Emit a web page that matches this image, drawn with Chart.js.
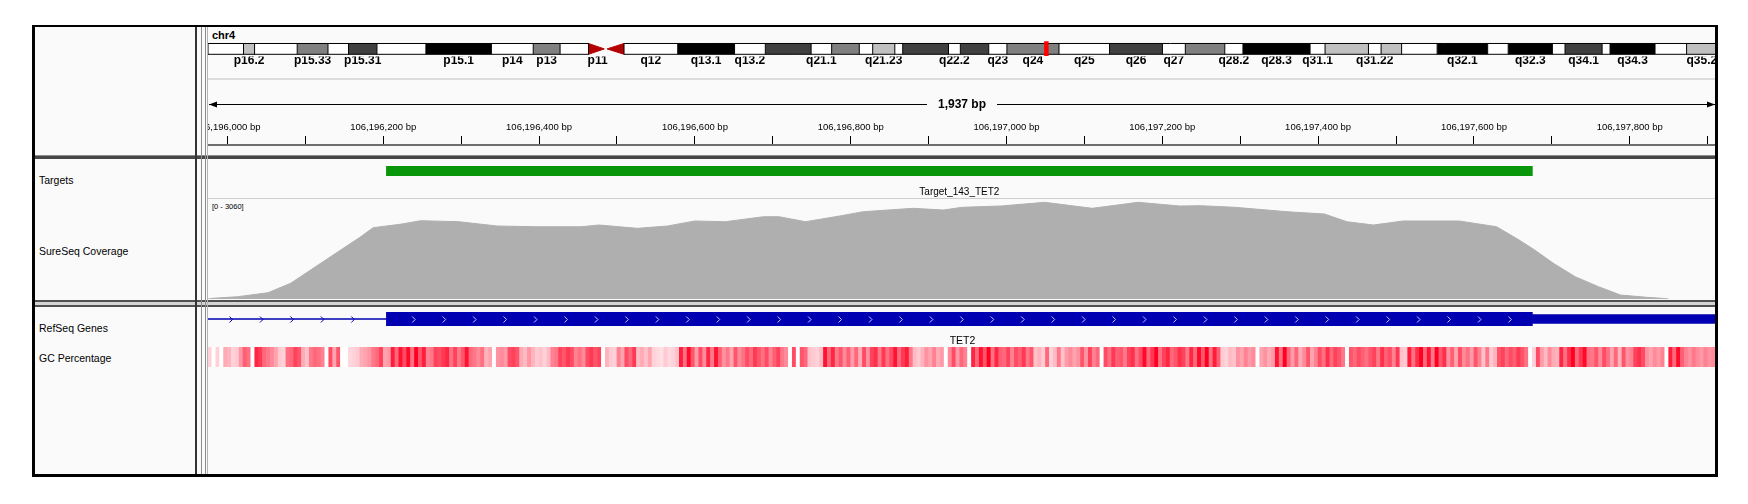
<!DOCTYPE html>
<html>
<head>
<meta charset="utf-8">
<title>chr4 TET2 - Target_143</title>
<script src="https://cdn.jsdelivr.net/npm/chart.js@4.4.1/dist/chart.umd.min.js"></script>
<style>
  html, body { margin: 0; padding: 0; background: #fff; }
  body { position: relative; width: 1748px; height: 504px; overflow: hidden;
         font-family: "Liberation Sans", Arial, Helvetica, sans-serif; }
  .abs { position: absolute; }
  canvas { position: absolute; }
  .name { position: absolute; left: 39px; font-size: 10.5px; line-height: 12px; color: #000; white-space: nowrap; }
</style>
</head>
<body>
  <div class="abs" style="left:32px;top:25px;width:1686px;height:452px;background:#fafafa"></div>
  <div class="abs" style="left:208px;top:78px;width:1509px;height:2px;background:#dcdcdc"></div>
  <div class="abs" style="left:208px;top:198px;width:1509px;height:1px;background:#cfcfcf"></div>

  <div class="abs" style="left:212px;top:29px;font-weight:bold;font-size:11px;line-height:12px">chr4</div>
  <div class="abs" style="left:212px;top:203px;font-size:7.5px;line-height:8px">[0 - 3060]</div>

  <div class="name" style="top:174px">Targets</div>
  <div class="name" style="top:245px">SureSeq Coverage</div>
  <div class="name" style="top:322px">RefSeq Genes</div>
  <div class="name" style="top:352px">GC Percentage</div>

  <canvas id="ideogram" width="1509" height="30" style="left:208px;top:40px"></canvas>
  <canvas id="ruler" width="1509" height="61" style="left:208px;top:94px"></canvas>
  <canvas id="targets" width="1509" height="40" style="left:208px;top:159px"></canvas>
  <canvas id="coverage" width="1509" height="100" style="left:208px;top:199px"></canvas>
  <canvas id="genes" width="1509" height="40" style="left:208px;top:307px"></canvas>
  <canvas id="gc" width="1509" height="20" style="left:208px;top:347px"></canvas>

  <div class="abs" style="left:35px;top:155px;width:1680px;height:1px;background:#8c8c8c"></div>
  <div class="abs" style="left:35px;top:156px;width:1680px;height:3px;background:#474747"></div>
  <div class="abs" style="left:35px;top:300px;width:1680px;height:2px;background:#505050"></div>
  <div class="abs" style="left:35px;top:302px;width:1680px;height:3px;background:#d4d4d4"></div>
  <div class="abs" style="left:35px;top:305px;width:1680px;height:2px;background:#505050"></div>
  <div class="abs" style="left:195px;top:25px;width:2px;height:452px;background:#333"></div>
  <div class="abs" style="left:201px;top:25px;width:1px;height:452px;background:#8c8c8c"></div>
  <div class="abs" style="left:205px;top:25px;width:1px;height:452px;background:#8c8c8c"></div>
  <div class="abs" style="left:207px;top:25px;width:1px;height:452px;background:#b4b4b4"></div>
  <div class="abs" style="left:32px;top:25px;width:1686px;height:452px;box-sizing:border-box;border:solid #000;border-width:2px 3px 3px 3px"></div>

<script>
// visible locus, chr4
const viewStart = 106195975;
const viewEnd = 106197912;

// chr4 cytobands, Mb
const chrLength = 191.15;
const bandStarts = [0, 4.5, 5.9, 11.3, 15.2, 17.8, 21.4, 27.6, 35.9, 41.2,
  44.6, 48.2, 50.5, 52.7, 59.5, 66.7, 70.6, 76.4, 79.0, 82.5,
  84.2, 87.0, 88.0, 93.8, 95.3, 98.9, 101.2, 107.8, 114.2, 120.9,
  123.8, 128.8, 131.1, 139.6, 141.5, 147.0, 148.6, 151.2, 155.7, 162.1,
  164.7, 170.3, 171.9, 176.6, 177.6, 183.3, 187.3];
const bandStains = ['gneg', 'gpos25', 'gneg', 'gpos50', 'gneg', 'gpos75', 'gneg', 'gpos100', 'gneg', 'gpos50',
  'gneg', 'acen', 'acen', 'gneg', 'gpos100', 'gneg', 'gpos75', 'gneg', 'gpos50', 'gneg',
  'gpos25', 'gneg', 'gpos75', 'gneg', 'gpos75', 'gneg', 'gpos50', 'gneg', 'gpos75', 'gneg',
  'gpos50', 'gneg', 'gpos100', 'gneg', 'gpos25', 'gneg', 'gpos25', 'gneg', 'gpos100', 'gneg',
  'gpos100', 'gneg', 'gpos75', 'gneg', 'gpos100', 'gneg', 'gpos25'];
const bandNames = ['p16.3', 'p16.2', 'p16.1', 'p15.33', 'p15.32', 'p15.31', 'p15.2', 'p15.1', 'p14', 'p13',
  'p12', 'p11', 'q11', 'q12', 'q13.1', 'q13.2', 'q13.3', 'q21.1', 'q21.21', 'q21.22',
  'q21.23', 'q21.3', 'q22.1', 'q22.2', 'q22.3', 'q23', 'q24', 'q25', 'q26', 'q27',
  'q28.1', 'q28.2', 'q28.3', 'q31.1', 'q31.21', 'q31.22', 'q31.23', 'q31.3', 'q32.1', 'q32.2',
  'q32.3', 'q33', 'q34.1', 'q34.2', 'q34.3', 'q35.1', 'q35.2'];
const shownBands = ['p16.2', 'p15.33', 'p15.31', 'p15.1', 'p14', 'p13', 'p11', 'q12', 'q13.1', 'q13.2',
  'q21.1', 'q21.23', 'q22.2', 'q23', 'q24', 'q25', 'q26', 'q27', 'q28.2', 'q28.3',
  'q31.1', 'q31.22', 'q32.1', 'q32.3', 'q34.1', 'q34.3', 'q35.2'];
const locusMb = 106.2;

// capture targets
const targetStarts = [106196204];
const targetEnds = [106197675];
const targetNames = ['Target_143_TET2'];

// read depth
const covMax = 3060;
const covPos = [106195975, 106195981, 106196013, 106196052, 106196081, 106196126, 106196170, 106196187, 106196224, 106196248,
  106196297, 106196346, 106196396, 106196454, 106196477, 106196526, 106196565, 106196600, 106196639, 106196688,
  106196708, 106196742, 106196786, 106196816, 106196880, 106196919, 106196943, 106196993, 106197049, 106197110,
  106197169, 106197222, 106197249, 106197293, 106197360, 106197408, 106197437, 106197471, 106197509, 106197581,
  106197629, 106197658, 106197678, 106197702, 106197730, 106197760, 106197788, 106197822, 106197841, 106197850];
const covDepth = [0, 21, 70, 193, 480, 1193, 1888, 2182, 2295, 2396,
  2365, 2234, 2212, 2212, 2264, 2163, 2234, 2387, 2365, 2518,
  2518, 2365, 2540, 2671, 2775, 2723, 2806, 2846, 2959, 2775,
  2959, 2846, 2855, 2806, 2671, 2601, 2365, 2264, 2387, 2387,
  2212, 1805, 1499, 1092, 682, 376, 122, 52, 21, 0];

// RefSeq TET2 (+ strand)
const geneName = 'TET2';
const geneStart = 106067032;
const geneEnd = 106200973;
const exonStart = 106196204;
const cdsEnd = 106197675;

// GC percentage, 5 bp windows
const gcStart = 106195975;
const gcWindow = 5;
const gcPercent = [40, 10, 40, 10, 50, 48, 40, 42, 55, 68, 64,
  12, 80, 76, 66, 62, 58, 52, 42, 40, 64,
  66, 74, 70, 50, 44, 62, 66, 64, 60, 10,
  72, 52, 70, 10, 10, 38, 40, 42, 50, 52,
  55, 62, 66, 74, 52, 54, 82, 66, 84, 72,
  86, 64, 88, 70, 82, 60, 62, 74, 72, 76,
  80, 64, 74, 62, 70, 84, 66, 62, 58, 64,
  48, 52, 10, 56, 58, 54, 72, 74, 70, 50,
  46, 55, 48, 42, 44, 40, 46, 60, 62, 74,
  70, 76, 72, 60, 64, 58, 72, 76, 70, 74,
  10, 48, 42, 40, 60, 52, 72, 66, 76, 46,
  50, 44, 52, 40, 38, 36, 42, 38, 40, 44,
  82, 64, 86, 70, 54, 72, 58, 80, 62, 84,
  68, 56, 62, 52, 70, 58, 64, 72, 66, 76,
  70, 64, 72, 60, 68, 74, 62, 58, 10, 72,
  12, 70, 66, 44, 42, 40, 46, 84, 66, 80,
  62, 70, 58, 68, 54, 66, 50, 72, 56, 74,
  78, 62, 76, 64, 72, 84, 66, 76, 82, 62,
  46, 42, 48, 56, 52, 60, 50, 54, 10, 58,
  72, 54, 66, 60, 12, 80, 66, 84, 70, 90,
  64, 80, 68, 66, 74, 60, 72, 68, 76, 62,
  70, 44, 48, 42, 66, 40, 46, 62, 44, 54,
  58, 52, 56, 70, 56, 74, 60, 66, 10, 72,
  64, 76, 68, 70, 62, 74, 78, 64, 72, 86,
  66, 76, 88, 64, 74, 80, 66, 70, 78, 74,
  62, 80, 66, 86, 70, 90, 64, 82, 68, 42,
  40, 46, 44, 56, 52, 60, 54, 58, 10, 52,
  56, 50, 54, 84, 64, 88, 66, 54, 66, 50,
  58, 70, 52, 60, 72, 64, 78, 66, 74, 70,
  62, 10, 70, 66, 72, 68, 64, 70, 74, 62,
  78, 68, 72, 60, 76, 44, 42, 82, 64, 78,
  88, 66, 84, 62, 90, 70, 78, 56, 68, 52,
  72, 58, 64, 54, 70, 60, 44, 62, 42, 48,
  70, 74, 66, 72, 68, 76, 70, 64, 10, 40,
  72, 54, 46, 58, 50, 48, 80, 64, 78, 88,
  66, 76, 86, 64, 62, 70, 58, 72, 64, 52,
  66, 48, 70, 56, 60, 74, 78, 72, 56, 52,
  58, 54, 60, 10, 82, 66, 86, 68, 60, 56,
  62, 58, 54, 60, 56, 58, 58];

const stainColor = { gneg: '#ffffff', gpos25: '#c0c0c0', gpos50: '#808080', gpos75: '#404040', gpos100: '#000000' };
const acenColor = '#b40000';
const geneColor = '#0000b2';
const FONT = '"Liberation Sans", Arial, sans-serif';

Chart.defaults.font.family = FONT;
Chart.defaults.color = '#000';
Chart.defaults.animation = false;
Chart.defaults.responsive = false;
Chart.defaults.maintainAspectRatio = false;
Chart.defaults.events = [];
Chart.defaults.plugins.legend.display = false;
Chart.defaults.plugins.tooltip.enabled = false;

const el = (id) => document.getElementById(id);
const noPad = (s) => { s.paddingLeft = 0; s.paddingRight = 0; };
const locusX = () => ({ type: 'linear', min: viewStart, max: viewEnd, display: false, offset: false });

// ---- ideogram ----
// higher "order" is painted first, so bands sit under outlines and the locus marker
const ideoSets = [];
const bandEnd = (i) => (i + 1 < bandStarts.length ? bandStarts[i + 1] : chrLength);
bandStarts.forEach((s, i) => {
  if (bandStains[i] === 'acen') return;
  ideoSets.push({ data: [{ x: s, y: 1 }, { x: bandEnd(i), y: 1 }], fill: { value: 0 }, order: 3,
    backgroundColor: stainColor[bandStains[i]], borderColor: 'rgba(0,0,0,0)', pointRadius: 0 });
});
const acen = bandStains.map((st, i) => (st === 'acen' ? i : -1)).filter((i) => i >= 0);
const pEnd = bandStarts[acen[0]];
const cen = bandStarts[acen[1]];
const qStart = bandEnd(acen[1]);
// centromere triangles, each half filled toward the tip line
[[pEnd, cen - 0.3], [qStart, cen + 0.05]].forEach(([base, tip]) => {
  [0, 1].forEach((edge) => {
    ideoSets.push({ data: [{ x: base, y: edge }, { x: tip, y: 0.5 }], fill: { value: 0.5 }, order: 2,
      backgroundColor: acenColor, borderColor: acenColor, borderWidth: 1, pointRadius: 0 });
  });
});
const edgePts = [
  { x: 0, y: 0 }, { x: 0, y: 1 }, { x: pEnd, y: 1 }, { x: pEnd, y: 0 }, { x: 0, y: 0 }, { x: pEnd, y: null },
  { x: qStart, y: 0 }, { x: qStart, y: 1 }, { x: chrLength, y: 1 }, { x: chrLength, y: 0 }, { x: qStart, y: 0 }, { x: qStart, y: null }
];
bandStarts.forEach((s, i) => {
  if (i > 0 && bandStains[i] !== 'acen' && bandStains[i - 1] !== 'acen') {
    edgePts.push({ x: s, y: 0 }, { x: s, y: 1 }, { x: s, y: null });
  }
});
ideoSets.push({ data: edgePts, fill: false, order: 1, borderColor: '#000', borderWidth: 1, pointRadius: 0, spanGaps: false });
ideoSets.push({ data: [{ x: locusMb, y: -0.15 }, { x: locusMb, y: 1.2 }], fill: false, order: 0,
  borderColor: '#ff0000', borderWidth: 4.5, pointRadius: 0 });

const labelIdx = shownBands.map((n) => bandNames.indexOf(n));
new Chart(el('ideogram'), {
  type: 'line',
  data: { datasets: ideoSets },
  options: {
    layout: { padding: 0 },
    scales: {
      x: {
        type: 'linear', position: 'bottom', min: 0, max: chrLength,
        afterBuildTicks: (s) => { s.ticks = labelIdx.map((i) => ({ value: (bandStarts[i] + bandEnd(i)) / 2 })); },
        afterFit: (s) => { s.height = 13.5; noPad(s); },
        ticks: { autoSkip: false, maxRotation: 0, padding: -3, color: '#000',
          font: { size: 12, weight: 'bold' }, callback: (v, i) => shownBands[i] },
        grid: { display: false, drawTicks: false },
        border: { display: false }
      },
      y: { type: 'linear', min: -0.204, max: 1.324, display: false }
    }
  }
});

// ---- ruler ----
const spanArrow = {
  id: 'spanArrow',
  afterDraw(chart) {
    const { ctx } = chart;
    const x = chart.scales.x;
    const y = 10.5;
    const x0 = x.getPixelForValue(viewStart) + 1;
    const x1 = x.getPixelForValue(viewEnd) - 2;
    const label = (viewEnd - viewStart).toLocaleString('en-US') + ' bp';
    ctx.save();
    ctx.font = 'bold 12px ' + FONT;
    const w = ctx.measureText(label).width;
    const mid = (x0 + x1) / 2;
    ctx.strokeStyle = '#000';
    ctx.fillStyle = '#000';
    ctx.lineWidth = 1;
    ctx.beginPath();
    ctx.moveTo(x0, y); ctx.lineTo(mid - w / 2 - 11, y);
    ctx.moveTo(mid + w / 2 + 11, y); ctx.lineTo(x1, y);
    ctx.stroke();
    ctx.beginPath();
    ctx.moveTo(x0, y); ctx.lineTo(x0 + 8, y - 3); ctx.lineTo(x0 + 8, y + 3); ctx.closePath();
    ctx.moveTo(x1, y); ctx.lineTo(x1 - 8, y - 3); ctx.lineTo(x1 - 8, y + 3); ctx.closePath();
    ctx.fill();
    ctx.textAlign = 'center';
    ctx.textBaseline = 'middle';
    ctx.fillText(label, mid, y);
    ctx.restore();
  }
};
new Chart(el('ruler'), {
  type: 'scatter',
  data: { datasets: [] },
  options: {
    layout: { padding: 0 },
    scales: {
      x: {
        type: 'linear', position: 'top', min: viewStart, max: viewEnd,
        afterFit: (s) => { s.height = 51; noPad(s); },
        ticks: { stepSize: 100, includeBounds: false, autoSkip: false, maxRotation: 0, padding: 3,
          color: '#000', font: { size: 9.5 },
          callback: (v) => (v % 200 === 0 ? v.toLocaleString('en-US') + ' bp' : '') },
        grid: { drawOnChartArea: false, drawTicks: true, tickLength: 9, color: '#000' },
        border: { display: true, color: '#6e6e6e', width: 2 }
      },
      y: { min: 0, max: 1, display: false }
    }
  },
  plugins: [spanArrow]
});

// feature names centred on the visible part of each feature
const featureLabels = (starts, ends, names, gap, size) => ({
  id: 'featureLabels',
  afterDatasetsDraw(chart) {
    const { ctx, chartArea } = chart;
    const x = chart.scales.x;
    ctx.save();
    ctx.font = size + 'px ' + FONT;
    ctx.fillStyle = '#000';
    ctx.textAlign = 'center';
    ctx.textBaseline = 'middle';
    names.forEach((n, i) => {
      const a = Math.max(starts[i], viewStart), b = Math.min(ends[i], viewEnd);
      ctx.fillText(n, (x.getPixelForValue(a) + x.getPixelForValue(b)) / 2, chartArea.bottom + gap);
    });
    ctx.restore();
  }
});

// ---- targets ----
new Chart(el('targets'), {
  type: 'bar',
  data: { labels: ['Targets'], datasets: [{
    data: targetStarts.map((s, i) => [s, targetEnds[i]]),
    backgroundColor: '#0a960a', barPercentage: 1, categoryPercentage: 1 }] },
  options: {
    indexAxis: 'y',
    layout: { padding: { top: 7, bottom: 23 } },
    scales: { x: locusX(), y: { display: false } }
  },
  plugins: [featureLabels(targetStarts, targetEnds, targetNames, 16, 10)]
});

// ---- coverage ----
new Chart(el('coverage'), {
  type: 'line',
  data: { datasets: [{
    data: covPos.map((p, i) => ({ x: p, y: covDepth[i] })),
    fill: 'origin', backgroundColor: '#afafaf', borderColor: '#afafaf', borderWidth: 1, pointRadius: 0, tension: 0 }] },
  options: {
    layout: { padding: 0 },
    scales: { x: locusX(), y: { type: 'linear', min: 0, max: covMax, display: false } }
  }
});

// ---- RefSeq gene ----
const strandArrows = {
  id: 'strandArrows',
  afterDatasetsDraw(chart) {
    const { ctx, chartArea } = chart;
    const x = chart.scales.x;
    const yc = Math.round((chartArea.top + chartArea.bottom) / 2) + 0.5;
    const bs = x.getPixelForValue(exonStart), be = x.getPixelForValue(cdsEnd);
    ctx.save();
    ctx.lineWidth = 1;
    for (let px = chartArea.left + 23.5; px < be - 5; px += 30.45) {
      const inExon = px > bs + 5;
      if (!inExon && px > bs - 5) continue;
      ctx.strokeStyle = inExon ? '#c8c8ff' : geneColor;
      ctx.beginPath();
      ctx.moveTo(px - 2, yc - 3); ctx.lineTo(px + 1, yc); ctx.lineTo(px - 2, yc + 3);
      ctx.stroke();
    }
    ctx.restore();
  }
};
new Chart(el('genes'), {
  type: 'bar',
  data: { labels: [geneName], datasets: [
    { data: [[geneStart, exonStart]], backgroundColor: geneColor, barThickness: 1, grouped: false },
    { data: [[cdsEnd, geneEnd]], backgroundColor: geneColor, barThickness: 9, grouped: false },
    { data: [[exonStart, cdsEnd]], backgroundColor: geneColor, barThickness: 14, grouped: false }
  ] },
  options: {
    indexAxis: 'y',
    layout: { padding: { top: 5, bottom: 21 } },
    scales: { x: locusX(), y: { display: false } }
  },
  plugins: [strandArrows, featureLabels([geneStart], [geneEnd], [geneName], 15, 10.5)]
});

// ---- GC percentage heat strip ----
const gcColor = (v) => {
  const t = Math.pow(Math.max(0, Math.min(1, (v - 25) / 63)), 1.2);
  return 'rgb(255,' + Math.round(255 * (1 - t)) + ',' + Math.round(255 - 221 * t) + ')';
};
new Chart(el('gc'), {
  type: 'bar',
  data: { datasets: [{
    data: gcPercent.map((v, i) => ({ x: gcStart + i * gcWindow + gcWindow / 2, y: 1 })),
    backgroundColor: gcPercent.map(gcColor), barPercentage: 1, categoryPercentage: 1 }] },
  options: {
    layout: { padding: 0 },
    scales: { x: locusX(), y: { type: 'linear', min: 0, max: 1, display: false } }
  }
});
</script>
</body>
</html>
